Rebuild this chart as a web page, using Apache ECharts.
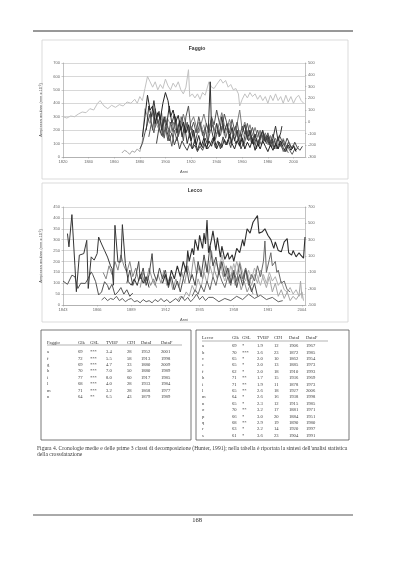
<!DOCTYPE html>
<html><head><meta charset="utf-8">
<script src="https://cdn.jsdelivr.net/npm/echarts@6/dist/echarts.min.js"></script>
<style>html,body{margin:0;padding:0;background:#fff}#c{width:400px;height:567px}</style>
</head><body><div id="c"></div>
<script>
// ---------- Faggio chart data ----------
const faggioYearFrom = 1820, faggioYearTo = 2009;
const faggioLeftTicks = [0, 700, 100];
const faggioRightTicks = [-300, 500, 100];
const faggioMedia = [[1820,300],[1823,290],[1826,305],[1829,300],[1832,320],[1835,335],[1838,330],[1841,360],[1844,350],[1847,400],[1849,420],[1852,380],[1855,360],[1858,385],[1861,370],[1864,390],[1867,380],[1870,410],[1873,400],[1876,430],[1878,400],[1880,450],[1882,420],[1884,510],[1886,600],[1888,560],[1890,520],[1892,560],[1894,500],[1896,540],[1898,510],[1900,580],[1902,530],[1904,500],[1906,550],[1908,520],[1910,560],[1912,500],[1914,470],[1916,520],[1918,650],[1919,450],[1921,470],[1923,440],[1925,470],[1927,430],[1929,480],[1931,460],[1934,560],[1936,520],[1938,510],[1940,540],[1943,580],[1945,550],[1947,570],[1949,520],[1951,540],[1953,500],[1955,510],[1957,470],[1958,380],[1960,430],[1962,470],[1964,440],[1966,480],[1968,450],[1970,470],[1972,430],[1974,460],[1976,420],[1978,450],[1980,400],[1982,460],[1984,420],[1986,470],[1988,420],[1990,450],[1992,400],[1994,460],[1996,410],[1998,450],[2000,400],[2002,440],[2004,460],[2006,420],[2008,400]];
const faggioB = [[1866,30],[1868,50],[1870,40],[1872,20],[1874,45],[1876,35],[1878,60],[1880,40],[1882,120],[1884,360],[1886,300],[1888,250],[1890,330],[1892,280],[1894,220],[1896,300],[1898,260],[1900,200],[1902,280],[1904,240],[1906,180],[1908,260],[1910,220],[1912,300],[1914,200],[1916,250],[1918,180],[1920,230],[1922,150],[1924,210],[1926,260],[1928,190],[1930,240],[1932,170],[1934,220],[1936,280],[1938,200],[1940,250],[1942,190],[1944,230],[1946,160],[1948,210],[1950,250],[1952,170],[1954,220],[1956,150],[1958,200],[1960,130],[1962,190],[1964,150],[1966,200],[1968,120],[1970,170],[1972,140],[1974,190],[1976,110],[1978,160],[1980,90],[1982,150],[1984,100],[1986,60],[1988,120],[1990,80],[1992,140],[1994,90]];
const faggioD1 = [[1882,150],[1884,300],[1886,460],[1888,350],[1890,380],[1892,250],[1894,330],[1896,280],[1898,400],[1900,480],[1902,420],[1904,300],[1906,350],[1908,260],[1910,310],[1912,200],[1914,260],[1916,180],[1918,240],[1920,120],[1922,200],[1924,90],[1926,160],[1928,80],[1930,140],[1932,60],[1934,120],[1936,80],[1938,150],[1940,60],[1942,110],[1944,70],[1946,130],[1948,90],[1950,170],[1952,100],[1954,60],[1956,120],[1958,80],[1960,140],[1962,60],[1964,110],[1966,70],[1968,130],[1970,50],[1972,100],[1974,60],[1976,120],[1978,80],[1980,40],[1982,90],[1984,50],[1986,100],[1988,60],[1990,120],[1992,70],[1994,40],[1996,90],[1998,50],[2000,80],[2002,40]];
const faggioD2 = [[1885,200],[1887,380],[1889,300],[1891,420],[1893,280],[1895,340],[1897,200],[1899,300],[1901,240],[1903,380],[1905,250],[1907,320],[1909,180],[1911,270],[1913,150],[1915,230],[1917,100],[1919,180],[1921,60],[1923,130],[1925,50],[1927,110],[1929,70],[1931,140],[1933,90],[1935,560],[1936,200],[1938,120],[1940,250],[1942,150],[1944,300],[1946,180],[1948,250],[1950,140],[1952,220],[1954,120],[1956,200],[1958,90],[1960,180],[1962,240],[1964,130],[1966,200],[1968,100],[1970,170],[1972,90],[1974,150],[1976,200],[1978,110],[1980,160],[1982,80],[1984,140],[1986,230],[1988,120],[1990,180],[1991,230]];
const faggioD3 = [[1880,60],[1882,100],[1884,180],[1886,250],[1888,320],[1890,200],[1892,360],[1894,250],[1896,300],[1898,150],[1900,220],[1902,120],[1904,260],[1906,190],[1908,300],[1910,160],[1912,230],[1914,120],[1916,300],[1918,380],[1920,200],[1922,260],[1924,180],[1926,300],[1928,220],[1930,140],[1932,250],[1934,180],[1936,300],[1938,240],[1940,350],[1942,260],[1944,200],[1946,320],[1948,250],[1950,180],[1952,280],[1954,200],[1956,260],[1958,150],[1960,230],[1962,170],[1964,250],[1966,160],[1968,220],[1970,140],[1972,200],[1974,130],[1976,190],[1978,120],[1980,180],[1982,110],[1984,170],[1986,90],[1988,150],[1990,80],[1992,130],[1994,60],[1996,110],[1998,70],[2000,90],[2002,50],[2004,80]];
const faggioD4 = [[1887,150],[1889,250],[1891,180],[1893,300],[1895,220],[1897,330],[1899,140],[1901,250],[1903,170],[1905,80],[1907,200],[1909,120],[1911,240],[1913,300],[1915,180],[1917,260],[1919,140],[1921,210],[1923,100],[1925,180],[1927,260],[1929,160],[1931,220],[1933,110],[1935,190],[1937,240],[1939,130],[1941,200],[1943,160],[1945,250],[1947,140],[1949,210],[1951,100],[1953,180],[1955,230],[1957,120],[1959,170],[1961,80],[1963,150],[1965,200],[1967,110],[1969,160],[1971,60],[1973,130],[1975,90],[1977,170],[1979,100],[1981,150],[1983,70],[1985,130],[1987,60],[1989,110],[1991,70],[1993,40],[1995,90],[1997,50],[1999,20],[2001,60]];
const faggioD5 = [[1893,100],[1895,220],[1897,160],[1899,280],[1901,200],[1903,120],[1905,180],[1907,90],[1909,150],[1911,60],[1913,120],[1915,80],[1917,50],[1919,100],[1921,60],[1923,90],[1925,40],[1927,80],[1929,50],[1931,100],[1933,60],[1935,90],[1937,140],[1939,70],[1941,120],[1943,60],[1945,150],[1947,90],[1949,130],[1951,70],[1953,160],[1955,100],[1957,140],[1959,60],[1961,110],[1963,200],[1965,120],[1967,160],[1969,90],[1971,140],[1973,80],[1975,180],[1977,120],[1979,160],[1981,90],[1983,130],[1985,60],[1987,110],[1989,160],[1991,120],[1993,80],[1995,140],[1997,100],[1999,60],[2001,110],[2003,70],[2005,50],[2007,80]];
const faggioD6 = [[1888,250],[1890,330],[1892,220],[1894,280],[1896,180],[1898,240],[1900,300],[1902,220],[1904,180],[1906,260],[1908,200],[1910,150],[1912,230],[1914,320],[1916,240],[1918,190],[1920,260],[1922,300],[1924,230],[1926,180],[1928,250],[1930,320],[1932,240],[1934,190],[1936,280],[1938,210],[1940,170],[1942,250],[1944,330],[1946,240],[1948,200],[1950,280],[1952,220],[1954,160],[1956,250],[1958,350],[1960,200],[1962,260],[1964,180],[1966,240],[1968,160],[1970,220],[1972,150],[1974,200],[1976,130],[1978,180],[1980,110],[1982,160],[1984,100],[1986,140],[1988,60],[1990,100],[1992,40],[1994,70],[1996,30]];

// ---------- Lecco chart data ----------
const leccoYearFrom = 1843, leccoYearTo = 2006;
const leccoLeftTicks = [0, 450, 50];
const leccoRightTicks = [-500, 700, 200];
const leccoL1 = [[1846,328],[1847,267],[1849,415],[1851,183],[1852,61],[1854,229],[1857,236],[1859,297],[1860,76],[1862,221],[1864,206],[1866,236],[1867,312],[1869,280],[1871,250],[1873,220],[1875,180],[1876,168],[1877,91],[1878,366],[1880,198],[1882,198],[1883,369],[1885,190],[1887,107],[1889,91],[1891,120],[1893,90],[1895,140],[1897,100],[1899,130],[1901,80]];
const leccoL2 = [[1843,110],[1844,107],[1846,95],[1847,91],[1849,137],[1851,130],[1853,76],[1855,100],[1856,91],[1858,99],[1860,122],[1862,152],[1863,140],[1865,107],[1867,46],[1869,60],[1871,107],[1873,90],[1874,70],[1876,95],[1878,46],[1880,60],[1882,80],[1884,50],[1886,70],[1888,40],[1890,55]];
const leccoL3 = [[1870,150],[1872,120],[1874,180],[1876,140],[1878,200],[1880,160],[1882,230],[1884,180],[1886,150],[1888,200],[1890,130],[1892,170],[1894,110],[1896,150],[1898,100],[1900,130],[1902,90],[1904,120],[1906,80]];
const leccoL4 = [[1869,23],[1871,35],[1873,20],[1875,30],[1877,25],[1879,40],[1881,20],[1883,30],[1885,15],[1887,25],[1889,30],[1891,15],[1893,20],[1895,10],[1897,25],[1899,15],[1901,20],[1903,10],[1905,25],[1907,15],[1909,30],[1911,15],[1913,25],[1915,10],[1917,20],[1919,30],[1921,15],[1923,40],[1925,20],[1927,35],[1929,15],[1931,30],[1933,50],[1935,25],[1937,40],[1939,20],[1941,35],[1944,35],[1948,15],[1952,30],[1956,20],[1960,40],[1964,25],[1968,50],[1972,30],[1976,45],[1980,25],[1984,35],[1988,15],[1991,20]];
const leccoL5 = [[1910,100],[1912,140],[1914,90],[1916,160],[1918,120],[1920,180],[1922,130],[1924,200],[1926,150],[1927,250],[1928,200],[1930,260],[1931,230],[1932,300],[1934,250],[1935,320],[1937,260],[1938,330],[1939,280],[1940,390],[1941,240],[1943,300],[1944,340],[1946,250],[1947,310],[1949,220],[1950,270],[1952,210],[1954,240],[1955,210],[1957,230],[1958,200],[1960,260],[1962,240],[1964,300],[1965,270],[1967,350],[1969,330],[1971,380],[1974,411],[1975,330],[1977,335],[1979,350],[1981,320],[1983,300],[1985,260],[1986,290],[1988,250],[1990,244],[1992,290],[1994,305],[1995,240],[1997,229],[1998,250],[2000,221],[2002,240],[2003,230],[2005,215],[2006,312]];
const leccoL6 = [[1895,80],[1897,150],[1899,110],[1901,170],[1903,120],[1905,90],[1907,140],[1909,100],[1911,160],[1913,90],[1915,130],[1917,70],[1919,120],[1921,80],[1923,150],[1925,100],[1927,180],[1929,120],[1931,220],[1933,140],[1935,180],[1937,120],[1939,200],[1941,140],[1943,250],[1945,160],[1947,120],[1949,200],[1951,130],[1953,180],[1955,100],[1957,150],[1959,90],[1961,130],[1963,70],[1965,110],[1967,60],[1969,90],[1971,50]];
const leccoL7 = [[1886,100],[1888,160],[1890,90],[1892,130],[1894,200],[1895,120],[1897,170],[1899,90],[1901,140],[1903,236],[1904,150],[1906,110],[1908,170],[1910,120],[1912,160],[1914,80],[1916,130],[1918,70],[1920,110],[1922,60],[1924,120],[1926,180],[1928,100],[1930,140],[1932,90],[1934,200],[1936,130],[1938,230],[1940,150],[1942,270],[1944,180],[1946,220],[1948,140],[1950,200],[1952,130],[1954,170],[1956,100],[1958,150],[1960,80],[1962,140],[1964,90],[1966,160],[1968,110],[1970,60],[1972,100],[1974,40]];
const leccoL8 = [[1920,20],[1922,40],[1924,30],[1926,60],[1928,40],[1930,90],[1932,60],[1934,120],[1936,80],[1938,150],[1940,100],[1942,180],[1944,130],[1946,200],[1948,150],[1950,230],[1952,170],[1954,120],[1956,180],[1958,140],[1960,200],[1962,150],[1964,110],[1966,170],[1968,130],[1970,90],[1972,140],[1974,100],[1976,160],[1978,120],[1980,80],[1982,130],[1984,60],[1986,100],[1988,40],[1990,70],[1992,30],[1994,60],[1996,20],[1998,40],[2000,25],[2002,45],[2003,110],[2004,30]];
const leccoL9 = [[1930,40],[1932,70],[1934,50],[1936,90],[1938,60],[1940,110],[1942,70],[1944,130],[1946,90],[1948,150],[1950,110],[1952,80],[1954,130],[1956,90],[1958,160],[1960,110],[1962,190],[1964,120],[1966,170],[1968,90],[1970,140],[1972,110],[1974,180],[1976,130],[1978,200],[1979,294],[1980,150],[1982,210],[1983,240],[1984,180],[1986,200],[1987,150],[1988,160],[1990,100],[1992,110],[1994,70],[1996,60]];
const leccoL10 = [[1950,150],[1952,110],[1954,170],[1956,130],[1958,190],[1960,140],[1962,200],[1964,150],[1966,110],[1968,160],[1970,120],[1972,170],[1974,130],[1976,90],[1978,140],[1980,100],[1982,150],[1984,110],[1986,130],[1988,90],[1990,110],[1992,70],[1994,60],[1996,80],[1998,50],[2000,70],[2002,40],[2004,60],[2005,20]];

// ---------- Tables ----------
const tableHeaderF = ['Faggio','Glk','GSL','TVBP','CDI','DataI','DataF'];
const faggioRows = ['a','f','g','h','i','l','m','n'];
const faggioGlk = [69,72,69,70,77,68,71,64];
const faggioGSL = ['***','***','***','***','***','***','***','**'];
const faggioTVBP = ['3.4','5.5','4.7','7.0','8.0','4.0','3.2','6.5'];
const faggioCDI = [28,58,33,50,60,28,28,43];
const faggioDataI = [1952,1913,1880,1880,1917,1933,1868,1879];
const faggioDataF = [2001,1998,2009,1989,1985,1984,1977,1989];

const tableHeaderL = ['Lecco','Glk','GSL','TVBP','CDI','DataI','DataF'];
const leccoRows = ['a','b','c','e','f','h','i','l','m','n','o','p','q','r','s'];
const leccoGlk = [69,70,65,65,62,71,71,65,64,65,70,66,68,63,61];
const leccoGSL = ['*','***','*','*','*','**','**','**','*','*','**','*','**','*','*'];
const leccoTVBP = ['1.9','3.6','2.0','2.0','2.0','1.7','1.9','2.6','2.6','2.3','3.2','3.0','2.9','2.2','3.6'];
const leccoCDI = [12,23,10,13,18,15,11,18,16,12,17,20,19,14,23];
const leccoDataI = [1906,1872,1862,1885,1910,1936,1878,1927,1938,1915,1881,1884,1890,1920,1904];
const leccoDataF = [1967,1985,1954,1973,1993,1969,1973,2006,1998,1985,1971,1951,1980,1997,1991];

const captionLines = ["Figura 4. Cronologie medie e delle prime 3 classi di decomposizione (Hunter, 1991); nella tabella è riportata la sintesi dell'analisi statistica",
  "della crossdatazione"];
const pageNumber = '168';

// ---------- build ----------
function years(a,b){const r=[];for(let y=a;y<=b;y++)r.push(String(y));return r;}
const toCat = arr => arr.map(p => [String(p[0]), p[1]]);
const sans = '"Liberation Sans", Arial, sans-serif';
const serif = '"Liberation Serif", "Times New Roman", serif';

function lineSeries(data, color, grid, width){
  return {type:'line', data: toCat(data), xAxisIndex:grid, yAxisIndex:grid*2, showSymbol:false, symbol:'none',
    lineStyle:{color:color, width:width||1}, itemStyle:{color:color}, animation:false, silent:true};
}
const axisLbl = {fontSize:4, color:'#666', fontFamily:sans};

function yLeft(grid, t){
  return {type:'value', gridIndex:grid, min:t[0], max:t[1], interval:t[2], position:'left',
    name:'Ampiezza anulare (mm x 10⁻²)', nameLocation:'middle', nameRotate:90, nameGap:14,
    nameTextStyle:{fontSize:4, color:'#555', fontFamily:sans},
    axisLine:{show:true, lineStyle:{color:'#999', width:0.6}}, axisTick:{show:true, length:1.5, lineStyle:{color:'#999', width:0.5}},
    axisLabel:Object.assign({margin:3}, axisLbl), splitLine:{show:true, lineStyle:{color:'#bdbdbd', width:0.6}}};
}
function yRight(grid, t){
  const off = t[0];
  return {type:'value', gridIndex:grid, min:0, max:t[1]-off, interval:t[2], position:'right',
    axisLine:{show:true, lineStyle:{color:'#999', width:0.6}}, axisTick:{show:true, length:1.5, lineStyle:{color:'#999', width:0.5}},
    axisLabel:Object.assign({margin:3, formatter:v => String(v + off)}, axisLbl), splitLine:{show:false}};
}
function xAxis(grid, a, b, step){
  return {type:'category', gridIndex:grid, data:years(a,b), boundaryGap:false,
    name:'Anni', nameLocation:'middle', nameGap:13, nameTextStyle:{fontSize:4, color:'#555', fontFamily:sans},
    axisLine:{lineStyle:{color:'#999', width:0.6}}, axisTick:{interval:step-1, length:1.5, lineStyle:{color:'#999', width:0.5}},
    axisLabel:Object.assign({interval:step-1, margin:3}, axisLbl), splitLine:{show:false}};
}

const graphics = [];
function rect(x,y,w,h,stroke,lw){graphics.push({type:'rect', z:-5, shape:{x:x,y:y,width:w,height:h}, style:{fill:'none', stroke:stroke, lineWidth:lw}, silent:true});}
function hline(x1,x2,y,stroke,lw){graphics.push({type:'line', z:-5, shape:{x1:x1,y1:y,x2:x2,y2:y}, style:{stroke:stroke, lineWidth:lw}, silent:true});}
function txt(s,x,y,font,fill,align){graphics.push({type:'text', z:5, silent:true, style:{text:String(s), x:x, y:y, font:font, fill:fill||'#333', textAlign:align||'left', align:align||'left', textVerticalAlign:'middle', verticalAlign:'middle'}});}

// page rules
hline(33,353,31,'#333',1);
hline(33,353,515,'#555',1);
txt(pageNumber,197,520,'6.5px '+serif,'#222','center');
// chart boxes
rect(42,40,306,139,'#d2d2d2',0.8);
rect(42,183,306,139,'#d2d2d2',0.8);
txt('Faggio',197,49,'bold 5px '+sans,'#333','center');
txt('Lecco',195,191,'bold 5px '+sans,'#333','center');
// tables
rect(41,330,150,110,'#555',0.8);
rect(196,330,153,110,'#555',0.8);
const colF = [47,78,90,106,127,141,161];
const colL = [202,232,242,257,274,289,306];
const tFont = '4.6px '+serif;
tableHeaderF.forEach((h,i)=>txt(h,colF[i],342.5,tFont,'#333'));
hline(47,182,345,'#666',0.5);
faggioRows.forEach((r,k)=>{
  const y = 352 + k*6.4;
  [r, faggioGlk[k], faggioGSL[k], faggioTVBP[k], faggioCDI[k], faggioDataI[k], faggioDataF[k]].forEach((v,i)=>txt(v,colF[i],y,tFont,'#3a3a3a'));
});
tableHeaderL.forEach((h,i)=>txt(h,colL[i],338,tFont,'#333'));
hline(202,328,341,'#666',0.5);
leccoRows.forEach((r,k)=>{
  const y = 346 + k*6.4;
  [r, leccoGlk[k], leccoGSL[k], leccoTVBP[k], leccoCDI[k], leccoDataI[k], leccoDataF[k]].forEach((v,i)=>txt(v,colL[i],y,tFont,'#3a3a3a'));
});
// caption
captionLines.forEach((l,i)=>txt(l,37,449+i*6,'5.6px '+serif,'#3a3a3a'));

const option = {
  backgroundColor:'#fff',
  animation:false,
  grid:[{left:63, top:63, width:242, height:94}, {left:63, top:207, width:242, height:98}],
  xAxis:[xAxis(0,faggioYearFrom,faggioYearTo,20), xAxis(1,leccoYearFrom,leccoYearTo,23)],
  yAxis:[yLeft(0,faggioLeftTicks), yRight(0,faggioRightTicks), yLeft(1,leccoLeftTicks), yRight(1,leccoRightTicks)],
  series:[
    lineSeries(faggioMedia,'#c2c2c2',0,1),
    lineSeries(faggioB,'#a6a6a6',0),
    lineSeries(faggioD6,'#7a7a7a',0),
    lineSeries(faggioD4,'#5c5c5c',0),
    lineSeries(faggioD5,'#444444',0),
    lineSeries(faggioD3,'#525252',0),
    lineSeries(faggioD2,'#333333',0),
    lineSeries(faggioD1,'#232323',0),
    lineSeries(leccoL10,'#b0b0b0',1),
    lineSeries(leccoL8,'#a6a6a6',1),
    lineSeries(leccoL6,'#959595',1),
    lineSeries(leccoL3,'#868686',1),
    lineSeries(leccoL9,'#6a6a6a',1),
    lineSeries(leccoL4,'#626262',1),
    lineSeries(leccoL7,'#4a4a4a',1),
    lineSeries(leccoL2,'#525252',1),
    lineSeries(leccoL1,'#363636',1),
    lineSeries(leccoL5,'#2e2e2e',1,1.1)
  ],
  graphic:{elements:graphics}
};
const chart = echarts.init(document.getElementById('c'), null, {renderer:'canvas', width:400, height:567});
chart.setOption(option);
</script></body></html>
